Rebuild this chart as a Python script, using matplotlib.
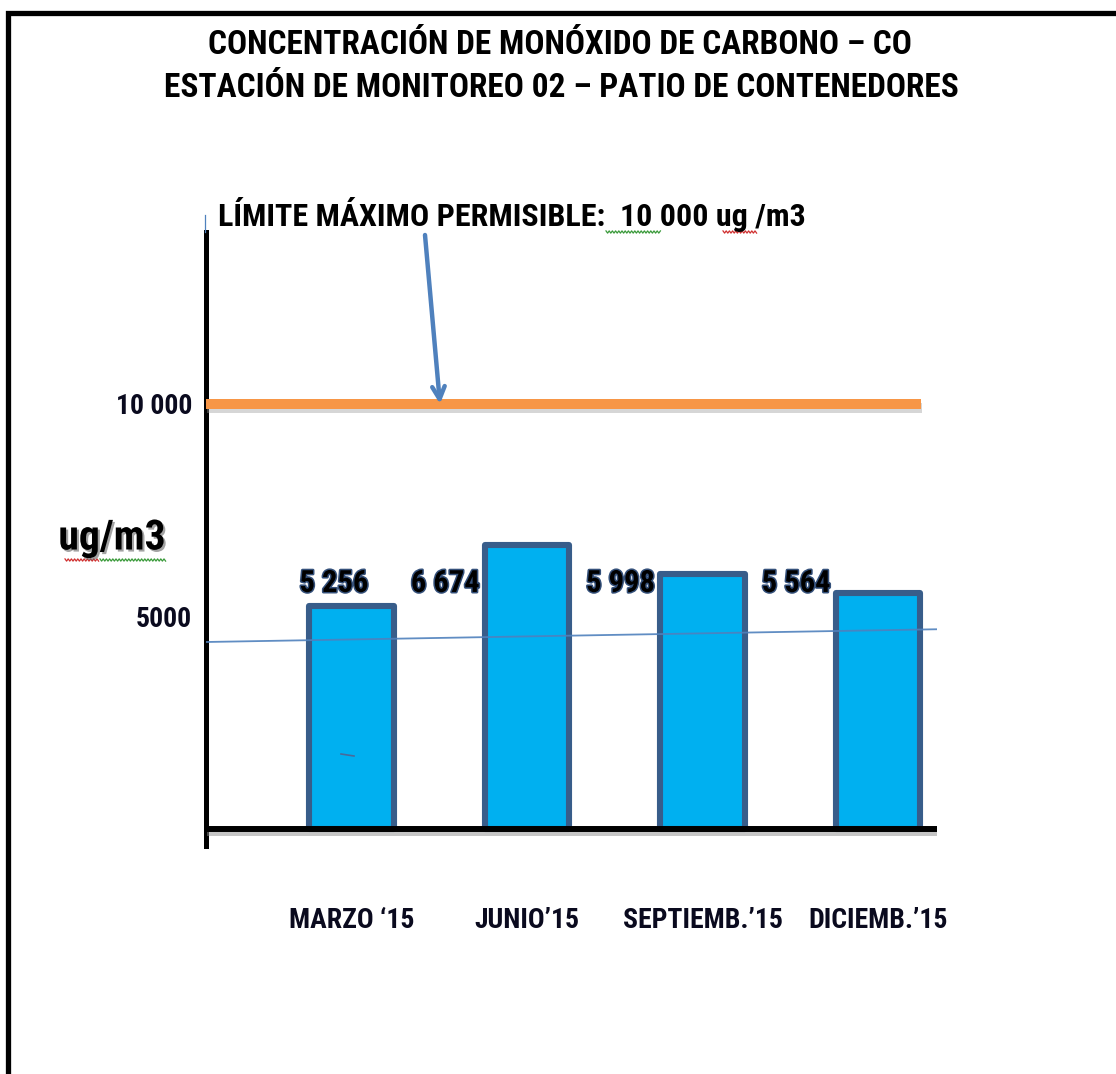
import os
import matplotlib
matplotlib.use("Agg")
import numpy as np
import matplotlib.pyplot as plt
from matplotlib import font_manager
from matplotlib import patheffects as pe
from matplotlib.lines import Line2D
from matplotlib.patches import Rectangle

# ---- data ----
periods = ["MARZO \u201815", "JUNIO\u201915", "SEPTIEMB.\u201915", "DICIEMB.\u201915"]
co_values = [5256, 6674, 5998, 5564]          # ug/m3
limit_value = 10000                            # maximum permissible level, ug/m3
axis_ticks = [5000, 10000]
axis_tick_labels = ["5000", "10 000"]
reference_line = [4400, 4700]                  # thin guide line, start / end level

title_lines = ["CONCENTRACI\u00d3N DE MON\u00d3XIDO DE CARBONO \u2013 CO",
               "ESTACI\u00d3N DE MONITOREO 02 \u2013 PATIO DE CONTENEDORES"]
unit_label = "ug/m3"


def _weight(w):
    if isinstance(w, str):
        return {"bold": 700, "semibold": 600, "demibold": 600, "heavy": 800,
                "black": 900, "normal": 400, "regular": 400, "medium": 500}.get(w.lower(), 400)
    return int(w)


def find_narrow_bold():
    """Return a path to a bold, narrow sans font if one is installed."""
    ranking = ["liberation sans narrow", "arial narrow", "roboto condensed",
               "noto sans", "open sans", "dejavu sans"]
    best = None
    for f in font_manager.fontManager.ttflist:
        name = f.name.lower()
        base = os.path.basename(f.fname).lower()
        if "italic" in base or "oblique" in base or f.style != "normal":
            continue
        stretch = f.stretch
        cond = ("narrow" in name or "narrow" in base or
                ("condensed" in name or "condensed" in base) and
                "semicondensed" not in base and "extracondensed" not in base and
                "semi" not in name and "extra" not in name)
        if not cond and not (isinstance(stretch, str) and stretch == "condensed"):
            continue
        if _weight(f.weight) < 600 or _weight(f.weight) > 750:
            continue
        rank = len(ranking)
        for i, key in enumerate(ranking):
            if name.startswith(key):
                rank = i
                break
        if best is None or rank < best[0]:
            best = (rank, f.fname)
    return best[1] if best else None


NARROW = find_narrow_bold()
if NARROW:
    def fp(size):
        return font_manager.FontProperties(fname=NARROW, size=size)
    shrink = 1.0
else:
    def fp(size):
        return font_manager.FontProperties(family=["Liberation Sans", "DejaVu Sans"],
                                           weight="bold", size=size)
    shrink = 0.86


def thousands(v):
    return f"{v:,}".replace(",", " ")


W, H = 1116, 1074
fig = plt.figure(figsize=(W / 100, H / 100), dpi=100)
fig.patch.set_facecolor("white")


def fx(px):
    return px / W


def fy(py):
    return 1 - py / H


# plot area (pixel layout of the frame)
ax_left, ax_right, ax_top, ax_bottom = 206, 937, 232, 846
ax = fig.add_axes([fx(ax_left), fy(ax_bottom), fx(ax_right - ax_left), (ax_bottom - ax_top) / H])

scale = 0.0425          # px per ug/m3
baseline_px = 829
ax.set_ylim(-(ax_bottom - baseline_px) / scale, (baseline_px - ax_top) / scale)
slot = 175.5
first_center = 351.5
ax.set_xlim((ax_left - first_center) / slot, (ax_right - first_center) / slot)

x = np.arange(len(co_values))

# bars
ax.bar(x, co_values, width=0.48, color="#00B0F0", edgecolor="#385D8A",
       linewidth=4.4, joinstyle="round", zorder=3)

# axes lines
for s in ["top", "right", "bottom"]:
    ax.spines[s].set_visible(False)
ax.spines["left"].set_linewidth(3.6)
ax.spines["left"].set_color("black")
ax.axhline(0, color="black", lw=4.3, zorder=4, solid_capstyle="butt",
           path_effects=[pe.SimpleLineShadow(offset=(1, -3), shadow_color="0.55", alpha=0.5),
                         pe.Normal()])

# limit line
xl0, xl1 = ax.get_xlim()
ax.hlines(limit_value, xl0, (921 - first_center) / slot, color="#F79646", lw=7.2, zorder=4,
          path_effects=[pe.SimpleLineShadow(offset=(1, -3), shadow_color="0.6", alpha=0.4),
                        pe.Normal()])

# thin guide line
ax.plot([xl0, xl1], reference_line, color="#4F81BD", lw=1.3, alpha=0.9, zorder=5)

# ticks
ax.set_yticks(axis_ticks, axis_tick_labels)
ax.set_xticks(x, periods)
ax.tick_params(axis="y", length=0, pad=10, labelcolor="#0a0a1e")
ax.tick_params(axis="x", length=0, pad=44, labelcolor="#0a0a1e")
for lab in ax.get_xticklabels() + ax.get_yticklabels():
    lab.set_fontproperties(fp(20 * shrink))

# value labels
label_y = co_values[0] + 180
val_fx = [pe.withStroke(linewidth=2.2, foreground="#34507a")]
for i, v in enumerate(co_values):
    if i == 0:
        ax.text(i - 0.1, label_y, thousands(v), ha="center", va="bottom",
                fontproperties=fp(22 * shrink), color="black", path_effects=val_fx, zorder=6)
    else:
        ax.text(i - 0.27, label_y, thousands(v), ha="right", va="bottom",
                fontproperties=fp(22 * shrink), color="black", path_effects=val_fx, zorder=6)

# arrow pointing at the limit line
ax.annotate("", xy=((440 - first_center) / slot, limit_value), xycoords="data",
            xytext=(425, H - 235), textcoords="figure pixels",
            arrowprops=dict(arrowstyle="->,head_length=0.9,head_width=0.45",
                            color="#4F81BD", lw=3.2, shrinkA=0, shrinkB=0),
            zorder=6)

# titles
fig.text(fx(560), fy(45), title_lines[0], ha="center", va="center",
         fontproperties=fp(24 * shrink), color="black")
fig.text(fx(561), fy(88), title_lines[1], ha="center", va="center",
         fontproperties=fp(24 * shrink), color="black")

fig.text(fx(218), fy(215), f"L\u00cdMITE M\u00c1XIMO PERMISIBLE:  {thousands(limit_value)} ug /m3",
         ha="left", va="center", fontproperties=fp(23 * shrink), color="black")

fig.text(fx(112), fy(538), unit_label, ha="center", va="center",
         fontproperties=fp(30 * shrink), color="black",
         path_effects=[pe.SimplePatchShadow(offset=(1.5, -1.5), shadow_rgbFace="0.4", alpha=0.6),
                       pe.Normal()])


# spell-check style wavy underlines
def squiggle(x0, x1, y, color):
    xs = np.arange(x0, x1 + 0.1, 1.6)
    ys = y + np.where(np.arange(len(xs)) % 2 == 0, -1.1, 1.1)
    fig.add_artist(Line2D(fx(xs), fy(ys), color=color, lw=0.9, transform=fig.transFigure))


squiggle(606, 661, 232, "#3a9a3a")
squiggle(723, 757, 232, "#d03030")
squiggle(65, 100, 560, "#d03030")
squiggle(100, 167, 560, "#3a9a3a")

# small stray mark and top tip of the vertical axis
fig.add_artist(Line2D([fx(341), fx(354)], [fy(754), fy(756)], color="#4a6a9a", lw=1.2,
                      transform=fig.transFigure))
fig.add_artist(Line2D([fx(205), fx(205)], [fy(215), fy(232)], color="#4F81BD", lw=0.9,
                      transform=fig.transFigure))

# page frame (top and left edges)
fig.add_artist(Rectangle((fx(8), -0.1), 1.2, fy(12.5) + 0.1, fill=False,
                         edgecolor="black", lw=3.8, transform=fig.transFigure))

fig.savefig("out.png", dpi=100, facecolor="white")
